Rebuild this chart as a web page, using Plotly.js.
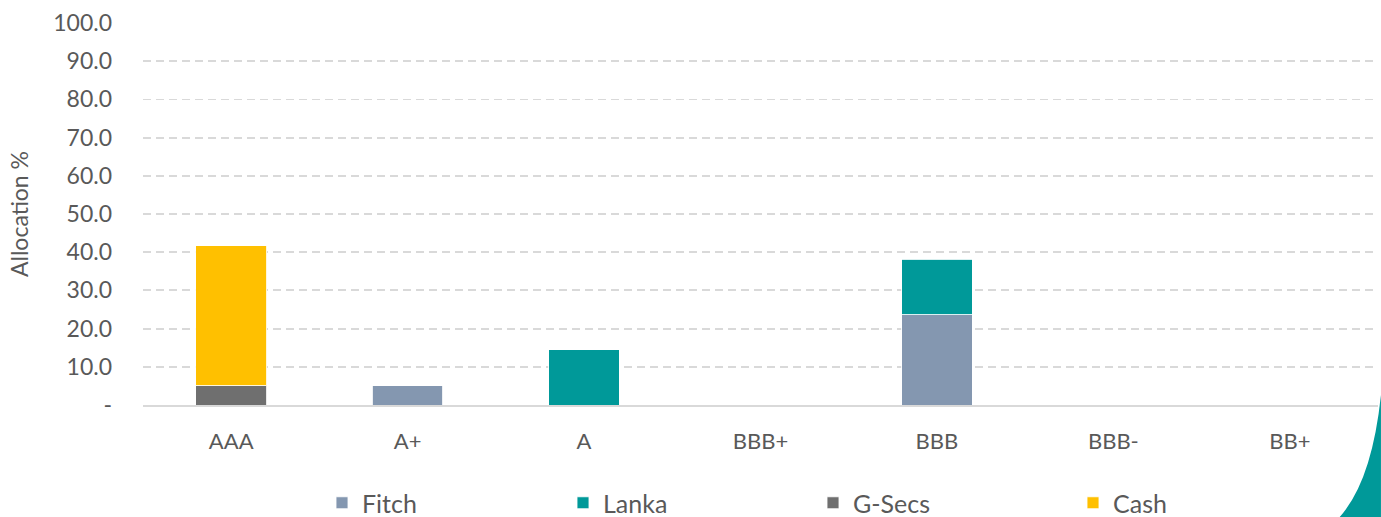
<!DOCTYPE html>
<html>
<head>
<meta charset="utf-8">
<script src="https://cdn.plot.ly/plotly-3.0.1.min.js"></script>
<style>
  html, body { margin: 0; padding: 0; background: #fff; }
  #chart { width: 1381px; height: 517px; }
</style>
</head>
<body>
<div id="chart"></div>
<script>
// Categorías de calificación
const ratings = ["AAA", "A+", "A", "BBB+", "BBB", "BBB-", "BB+"];

// Asignación por agencia / tipo (%)
const fitch = [null, 5.0, null, null, 23.6, null, null];
const lanka = [null, null, 14.4, null, 14.5, null, null];
const gsecs = [5.1, null, null, null, null, null, null];
const cash = [36.6, null, null, null, null, null, null];

// Etiquetas del eje Y
const yTickVals = [0, 10, 20, 30, 40, 50, 60, 70, 80, 90, 100];
const yTickText = ["-", "10.0", "20.0", "30.0", "40.0", "50.0", "60.0", "70.0", "80.0", "90.0", "100.0"];

const font = "Lato, 'Open Sans', sans-serif";
const grey = "#595959";
const edge = { color: "rgba(255,255,255,0.85)", width: 1 };

const series = [
  { name: "Fitch", y: fitch, color: "#8497B0", legend: "legend" },
  { name: "Lanka", y: lanka, color: "#009999", legend: "legend2" },
  { name: "G-Secs", y: gsecs, color: "#6F6F6F", legend: "legend3" },
  { name: "Cash", y: cash, color: "#FFC000", legend: "legend4" },
];

const traces = series.map((s) => ({
  type: "bar",
  x: ratings,
  y: s.y,
  name: s.name,
  legend: s.legend,
  marker: { color: s.color, line: edge },
  hoverinfo: "x+y+name",
}));

// una leyenda por serie, para reproducir el espaciado del original
function legendAt(px) {
  return {
    orientation: "h",
    xref: "container",
    yref: "container",
    x: px / 1381,
    xanchor: "left",
    y: 1 - 503 / 517,
    yanchor: "middle",
    bgcolor: "rgba(0,0,0,0)",
    font: { family: font, size: 25, color: grey },
  };
}

const layout = {
  width: 1381,
  height: 517,
  margin: { l: 143, r: 3, t: 23, b: 112 },
  barmode: "stack",
  bargap: 0.6,
  paper_bgcolor: "#ffffff",
  plot_bgcolor: "#ffffff",
  font: { family: font, size: 22, color: grey },
  xaxis: {
    type: "category",
    showgrid: false,
    showline: true,
    linecolor: "#d9d9d9",
    linewidth: 2,
    ticks: "",
    ticklabelstandoff: 16,
    tickfont: { family: font, size: 22, color: grey },
    fixedrange: true,
  },
  yaxis: {
    range: [0, 100],
    tickvals: yTickVals,
    ticktext: yTickText,
    showgrid: true,
    gridcolor: "#d9d9d9",
    griddash: "8px,5px",
    gridwidth: 1.8,
    zeroline: false,
    showline: false,
    ticks: "",
    ticklabelstandoff: 30,
    tickfont: { family: font, size: 23, color: grey },
    title: { text: "Allocation %", font: { family: font, size: 23, color: grey }, standoff: 18 },
    fixedrange: true,
  },
  showlegend: true,
  legend: legendAt(322),
  legend2: legendAt(563),
  legend3: legendAt(813),
  legend4: legendAt(1073),
  shapes: [
    {
      type: "path",
      xref: "paper",
      yref: "paper",
      path: "M 0.969 -0.293 Q 0.995 -0.2 1.0024 0.026 L 1.0024 -0.293 Z",
      fillcolor: "#009999",
      line: { width: 0 },
    },
  ],
};

Plotly.newPlot("chart", traces, layout, { displayModeBar: false, staticPlot: true });
</script>
</body>
</html>
